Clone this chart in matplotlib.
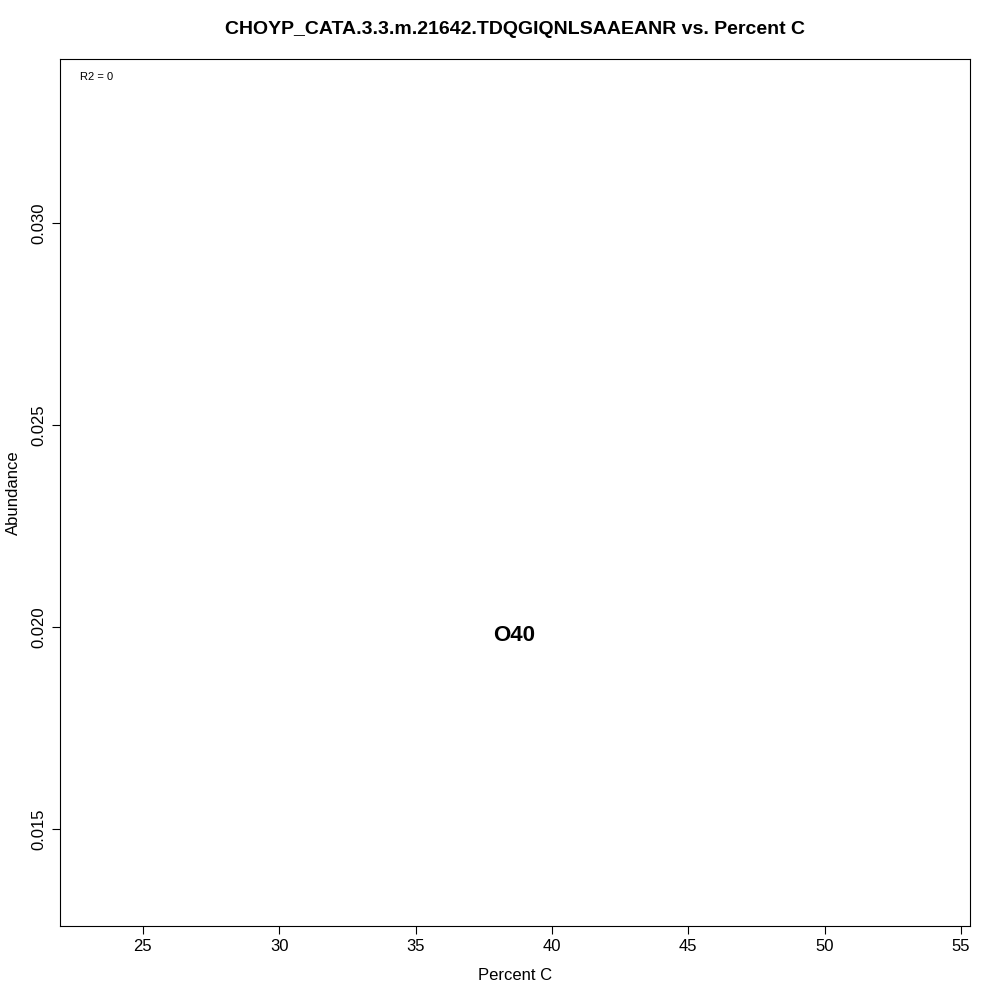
import matplotlib
matplotlib.use("Agg")
import matplotlib.pyplot as plt

plt.rcParams['font.family'] = ['Liberation Sans', 'DejaVu Sans']

# data
x_vals = [38.6]
y_vals = [0.0198]
labels = ["O40"]
r2_text = "R2 = 0"
title = "CHOYP_CATA.3.3.m.21642.TDQGIQNLSAAEANR vs. Percent C"

fig = plt.figure(figsize=(10, 10), dpi=100)
ax = fig.add_axes([0.060, 0.074, 0.910, 0.867])
ax.set_xlim(21.96, 55.33)
ax.set_ylim(0.0126, 0.03406)

for x, y, lab in zip(x_vals, y_vals, labels):
    ax.text(x, y, lab, ha='center', va='center', fontsize=16, fontweight='bold')

ax.text(0.022, 0.985, r2_text, transform=ax.transAxes, ha='left', va='top', fontsize=8)

ax.set_xticks([25, 30, 35, 40, 45, 50, 55])
ax.set_yticks([0.015, 0.020, 0.025, 0.030])
ax.set_yticklabels(["0.015", "0.020", "0.025", "0.030"], rotation=90, va='center')
ax.tick_params(labelsize=12, length=6)
ax.set_xlabel("Percent C", fontsize=12, labelpad=10)
ax.set_ylabel("Abundance", fontsize=12, labelpad=8)
ax.set_title(title, fontsize=14, fontweight='bold', pad=18)
for s in ax.spines.values():
    s.set_linewidth(0.8)

fig.savefig("out.png", dpi=100)
